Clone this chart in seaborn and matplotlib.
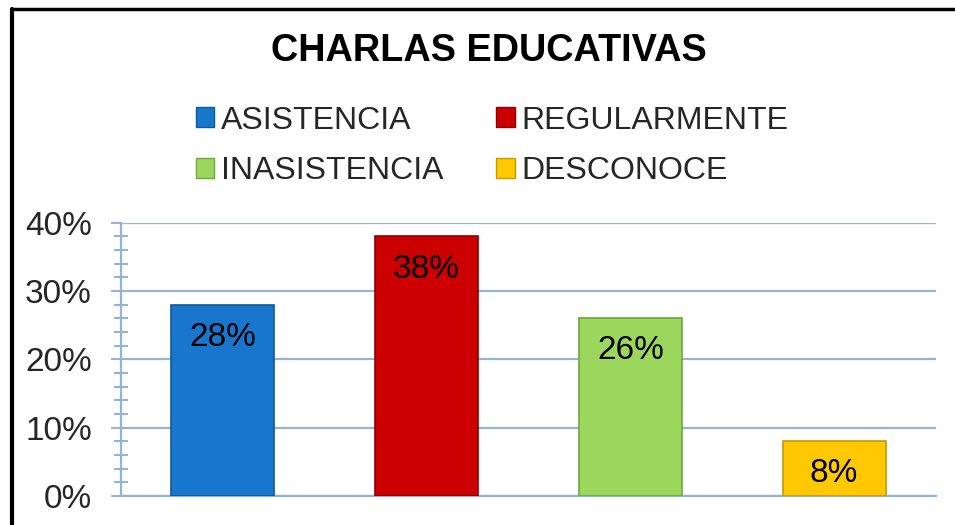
import numpy as np
import pandas as pd
import matplotlib
matplotlib.use('Agg')
import matplotlib.pyplot as plt
from matplotlib.patches import Patch
from matplotlib.lines import Line2D
from matplotlib.ticker import MultipleLocator, PercentFormatter
import seaborn as sns

# Chart data
categories = ["ASISTENCIA", "REGULARMENTE", "INASISTENCIA", "DESCONOCE"]
values = [28, 38, 26, 8]
bar_labels = ["28%", "38%", "26%", "8%"]
colors = ["#1876CC", "#CC0000", "#9BD75C", "#FFC800"]
edge_colors = ["#0B5A9E", "#8E0000", "#6FA83A", "#C79A00"]
title = "CHARLAS EDUCATIVAS"

sns.set_theme(style="white")
plt.rcParams['font.family'] = ['Liberation Sans', 'DejaVu Sans']

grid_color = "#95B3D7"

fig = plt.figure(figsize=(9.55, 5.25), dpi=100)
ax = fig.add_axes([121 / 955, 1 - 496 / 525, (936 - 121) / 955, (496 - 222.7) / 525])

df = pd.DataFrame({"categoria": categories, "valor": values})
sns.barplot(data=df, x="categoria", y="valor", hue="categoria", palette=colors,
            width=0.505, legend=False, ax=ax, saturation=1)

for patch, ec in zip(ax.patches, edge_colors):
    patch.set_edgecolor(ec)
    patch.set_linewidth(1.2)
    patch.set_zorder(3)

# value labels inside the top of each bar
for i, (v, lab) in enumerate(zip(values, bar_labels)):
    ax.annotate(lab, xy=(i, v), xytext=(0, -23.5), textcoords="offset points",
                ha="center", va="center", fontsize=24, color="black", zorder=4)

ax.set_xlim(-0.5, 3.5)
ax.set_ylim(0, 40)
ax.yaxis.set_major_locator(MultipleLocator(10))
ax.yaxis.set_minor_locator(MultipleLocator(2))
ax.yaxis.set_major_formatter(PercentFormatter(decimals=0))
ax.grid(axis="y", which="major", color=grid_color, linewidth=1.6, zorder=0)
ax.set_axisbelow(True)
ax.tick_params(axis="y", which="major", direction="out", length=7, width=1.5,
               color=grid_color, labelsize=24, pad=14, left=True)
ax.tick_params(axis="y", which="minor", direction="inout", length=10, width=1.5,
               color=grid_color, left=True)
ax.tick_params(axis="x", bottom=False, labelbottom=False)
ax.set_xlabel("")
ax.set_ylabel("")
for side in ["top", "right"]:
    ax.spines[side].set_visible(False)
ax.spines["left"].set_color(grid_color)
ax.spines["left"].set_linewidth(1.6)
ax.spines["bottom"].set_color(grid_color)
ax.spines["bottom"].set_linewidth(1.6)

# title
fig.text(489 / 955, 1 - 51 / 525, title, ha="center", va="center",
         fontsize=27.3, fontweight="bold", color="black")

# legend, filled column-wise
order = [0, 2, 1, 3]
handles = [Patch(facecolor=colors[i], edgecolor=edge_colors[i], linewidth=1) for i in order]
labels = [categories[i] for i in order]
fig.legend(handles, labels, ncol=2, loc="center", bbox_to_anchor=(492 / 955, 1 - 146 / 525),
           frameon=False, fontsize=23, handlelength=0.58, handleheight=0.58,
           handletextpad=0.2, columnspacing=1.66, labelspacing=0.65)

# outer border (top and left)
fig.add_artist(Line2D([12 / 955, 1], [1 - 8.5 / 525, 1 - 8.5 / 525],
                      transform=fig.transFigure, color="black", linewidth=2.5))
fig.add_artist(Line2D([12 / 955, 12 / 955], [0, 1 - 8.5 / 525],
                      transform=fig.transFigure, color="black", linewidth=3))

fig.savefig("out.png", dpi=100)
plt.close(fig)
